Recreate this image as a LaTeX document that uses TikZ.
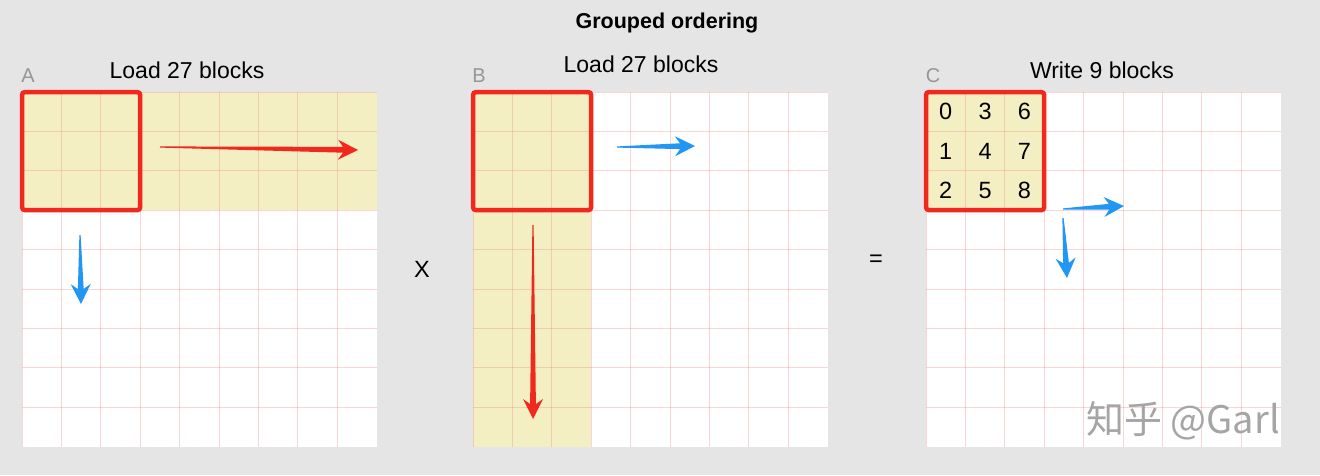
\documentclass[tikz,border=0pt]{standalone}
\usepackage{fontspec}
\setmainfont{Liberation Sans}
\newfontfamily\cjk{Noto Sans CJK SC}
\usepackage{tikz}
\usetikzlibrary{calc}

\definecolor{paneGray}{RGB}{229,229,229}
\definecolor{tagGray}{RGB}{150,150,150}
\definecolor{gridPink}{RGB}{240,150,150}
\definecolor{loadYellow}{RGB}{243,239,195}
\definecolor{boxRed}{RGB}{240,40,30}
\definecolor{moveBlue}{RGB}{33,150,243}
\definecolor{wmGray}{RGB}{165,165,165}

\tikzset{
  heading/.style={font=\fontsize{21.5}{24}\selectfont\bfseries},
  label/.style={font=\fontsize{23}{26}\selectfont},
  tag/.style={font=\fontsize{20}{22}\selectfont, text=tagGray},
  digit/.style={font=\fontsize{23.5}{26}\selectfont},
  op/.style={font=\fontsize{23.5}{26}\selectfont},
  watermark/.style={font=\cjk\fontsize{38}{40}\selectfont, text=wmGray},
  gridline/.style={draw=gridPink, draw opacity=0.4, line width=0.9pt},
  blockbox/.style={draw=boxRed, line width=4.5pt, rounded corners=3pt},
  loaded/.style={fill=loadYellow}
}

% tapered arrow: colour, from, to
\newcommand{\taparrow}[3]{%
  \coordinate (hb) at ($(#3)!20pt!(#2)$);
  \coordinate (hs) at ($(#3)!15pt!(#2)$);
  \fill[#1] ($(#2)!0.6pt!90:(#3)$) -- ($(hs)!2.9pt!90:(#3)$) -- ($(hb)!10pt!90:(#3)$) -- (#3)
    -- ($(hb)!10pt!-90:(#3)$) -- ($(hs)!2.9pt!-90:(#3)$) -- ($(#2)!0.6pt!-90:(#3)$) -- cycle;
}

\def\cs{39.4}

\begin{document}
\begin{tikzpicture}[x=1pt,y=-1pt]
    \useasboundingbox (0,0) rectangle (1320,475);
    \fill[paneGray] (0,0) rectangle (1320,475);

    % matrices
    \foreach \gx in {22,473,926}
        \fill[white] (\gx,92) rectangle ++(9*\cs,9*\cs);
    \fill[loaded] (22,92) rectangle ++(9*\cs,3*\cs);
    \fill[loaded] (473,92) rectangle ++(3*\cs,9*\cs);
    \fill[loaded] (926,92) rectangle ++(3*\cs,3*\cs);
    \foreach \gx in {22,473,926}
        \foreach \i in {0,...,8}{
            \draw[gridline] (\gx+\i*\cs,92) -- ++(0,9*\cs);
            \draw[gridline] (\gx,92+\i*\cs) -- ++(9*\cs,0);
        }
    \foreach \gx in {22,473,926}
        \draw[blockbox] (\gx,92) rectangle ++(3*\cs,3*\cs);

    % output block ids
    \foreach \c in {0,1,2}
        \foreach \r in {0,1,2}{
            \pgfmathtruncatemacro\n{3*\c+\r}
            \node[digit] (c-\n) at (926+\c*\cs+0.5*\cs,92+\r*\cs+0.5*\cs) {\n};
        }

    % texts
    \node[heading] (title) at (667,23) {Grouped ordering};
    \node[label] (load-a) at (187,70) {Load 27 blocks};
    \node[label] (load-b) at (641,64) {Load 27 blocks};
    \node[label] (write-c) at (1102,70) {Write 9 blocks};
    \node[tag] (tag-a) at (28,76) {A};
    \node[tag] (tag-b) at (479,76) {B};
    \node[tag] (tag-c) at (933,76) {C};
    \node[op] (times) at (422,269) {X};
    \node[op] (equals) at (876,261) {=};
    \node[watermark] (wm) at (1183,421) {知乎 @Garl};

    % moves
    \coordinate (a-row-s) at (160,147);
    \coordinate (a-row-e) at (358,150);
    \coordinate (a-col-s) at (80,235);
    \coordinate (a-col-e) at (81,304);
    \coordinate (b-row-s) at (617,147);
    \coordinate (b-row-e) at (695,146);
    \coordinate (b-col-s) at (533,225);
    \coordinate (b-col-e) at (533,419);
    \coordinate (c-row-s) at (1063,209);
    \coordinate (c-row-e) at (1124,206);
    \coordinate (c-col-s) at (1063,218);
    \coordinate (c-col-e) at (1067,278);
    \taparrow{boxRed}{a-row-s}{a-row-e}
    \taparrow{moveBlue}{a-col-s}{a-col-e}
    \taparrow{moveBlue}{b-row-s}{b-row-e}
    \taparrow{boxRed}{b-col-s}{b-col-e}
    \taparrow{moveBlue}{c-row-s}{c-row-e}
    \taparrow{moveBlue}{c-col-s}{c-col-e}
\end{tikzpicture}
\end{document}
